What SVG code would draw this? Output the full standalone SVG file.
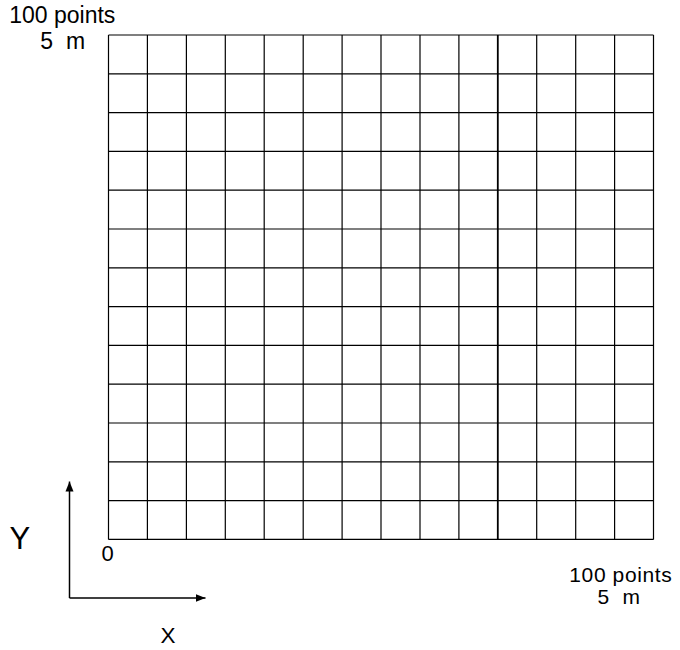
<svg xmlns="http://www.w3.org/2000/svg" width="680" height="650" viewBox="0 0 680 650">
<style>
.t{font-family:"Liberation Sans",Arial,sans-serif;fill:#000;white-space:pre}
.g line{stroke:#000;stroke-width:1.2}
.ax{stroke:#000;stroke-width:1.5;fill:none}
</style>
<defs>
<marker id="ah" viewBox="0 0 10 10" refX="10" refY="5" markerWidth="10" markerHeight="10" markerUnits="userSpaceOnUse" orient="auto">
<path d="M0,1 L10,5 L0,9 Z" fill="#000"/>
</marker>
</defs>
<rect width="680" height="650" fill="#fff"/>
<g id="grid" class="g">
<line x1="108.5" y1="35" x2="108.5" y2="539.4"/>
<line x1="147.4" y1="35" x2="147.4" y2="539.4"/>
<line x1="186.4" y1="35" x2="186.4" y2="539.4"/>
<line x1="225.3" y1="35" x2="225.3" y2="539.4"/>
<line x1="264.2" y1="35" x2="264.2" y2="539.4"/>
<line x1="303.2" y1="35" x2="303.2" y2="539.4"/>
<line x1="342.1" y1="35" x2="342.1" y2="539.4"/>
<line x1="381.0" y1="35" x2="381.0" y2="539.4"/>
<line x1="420.0" y1="35" x2="420.0" y2="539.4"/>
<line x1="458.9" y1="35" x2="458.9" y2="539.4"/>
<line x1="497.8" y1="35" x2="497.8" y2="539.4" style="stroke-width:1.8"/>
<line x1="536.7" y1="35" x2="536.7" y2="539.4"/>
<line x1="575.7" y1="35" x2="575.7" y2="539.4"/>
<line x1="614.6" y1="35" x2="614.6" y2="539.4"/>
<line x1="653.5" y1="35" x2="653.5" y2="539.4"/>
<line x1="108.5" y1="35" x2="653.5" y2="35"/>
<line x1="108.5" y1="73.8" x2="653.5" y2="73.8"/>
<line x1="108.5" y1="112.6" x2="653.5" y2="112.6"/>
<line x1="108.5" y1="151.4" x2="653.5" y2="151.4"/>
<line x1="108.5" y1="190.2" x2="653.5" y2="190.2"/>
<line x1="108.5" y1="229" x2="653.5" y2="229"/>
<line x1="108.5" y1="267.8" x2="653.5" y2="267.8"/>
<line x1="108.5" y1="306.6" x2="653.5" y2="306.6"/>
<line x1="108.5" y1="345.4" x2="653.5" y2="345.4"/>
<line x1="108.5" y1="384.2" x2="653.5" y2="384.2"/>
<line x1="108.5" y1="423" x2="653.5" y2="423"/>
<line x1="108.5" y1="461.8" x2="653.5" y2="461.8"/>
<line x1="108.5" y1="500.6" x2="653.5" y2="500.6"/>
<line x1="108.5" y1="539.4" x2="653.5" y2="539.4"/>
</g>
<g id="axes">
<line class="ax" x1="69.5" y1="598" x2="69.5" y2="481.5" marker-end="url(#ah)"/>
<line class="ax" x1="69.5" y1="598" x2="205.5" y2="598" marker-end="url(#ah)"/>
</g>
<g id="labels">
<text class="t" x="62.3" y="23.3" font-size="23" text-anchor="middle">100 points</text>
<text class="t" x="62.7" y="48.5" font-size="23" text-anchor="middle">5  m</text>
<text class="t" x="620.8" y="581.7" font-size="21" text-anchor="middle" letter-spacing="0.6">100 points</text>
<text class="t" x="619" y="604" font-size="21" text-anchor="middle" letter-spacing="0.6">5  m</text>
<text class="t" x="101.5" y="561" font-size="22">0</text>
<text class="t" x="9.5" y="549.3" font-size="31">Y</text>
<text class="t" x="160.5" y="643.3" font-size="22.5">X</text>
</g>
</svg>
